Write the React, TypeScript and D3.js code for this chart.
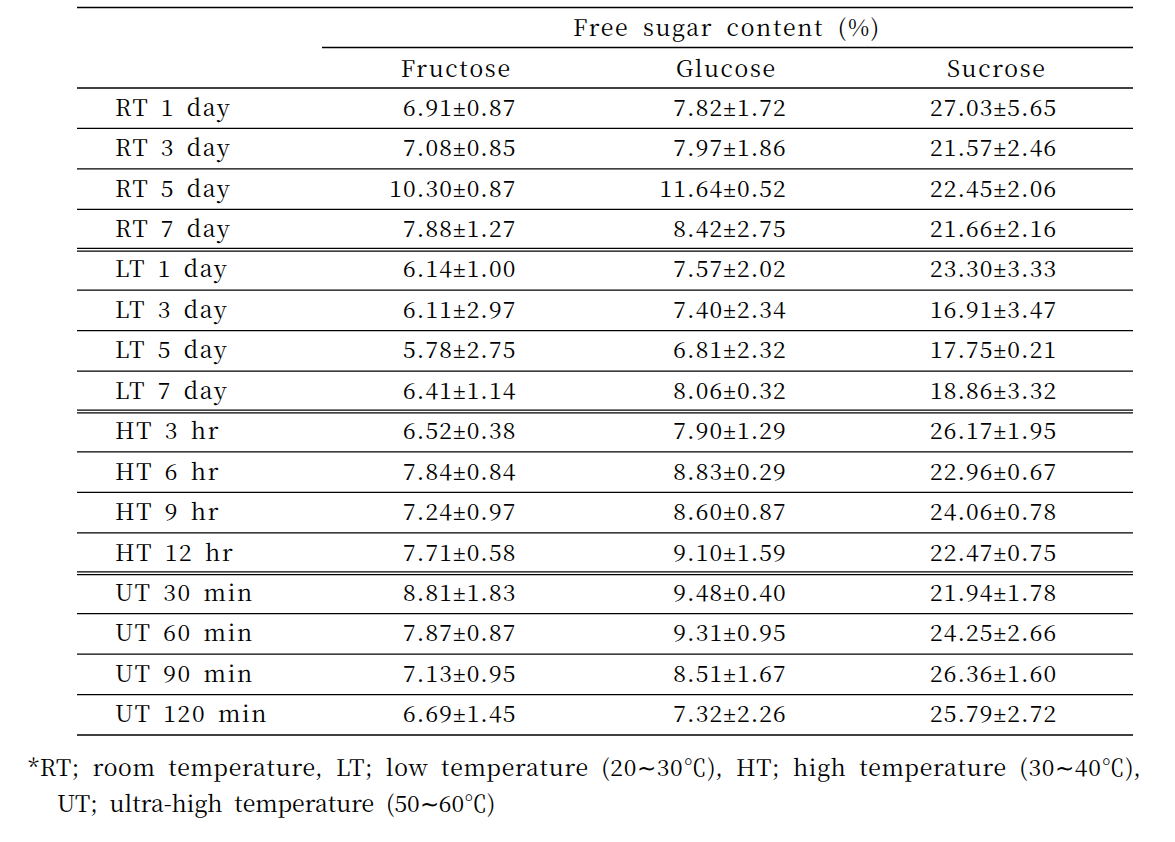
import React, { useEffect, useRef } from 'react';
import * as d3 from 'd3';

const rowLabels = [
  'RT 1 day', 'RT 3 day', 'RT 5 day', 'RT 7 day',
  'LT 1 day', 'LT 3 day', 'LT 5 day', 'LT 7 day',
  'HT 3 hr', 'HT 6 hr', 'HT 9 hr', 'HT 12 hr',
  'UT 30 min', 'UT 60 min', 'UT 90 min', 'UT 120 min',
];
const columns = ['Fructose', 'Glucose', 'Sucrose'];
const fructoseMean = [6.91, 7.08, 10.3, 7.88, 6.14, 6.11, 5.78, 6.41, 6.52, 7.84, 7.24, 7.71, 8.81, 7.87, 7.13, 6.69];
const fructoseSd = [0.87, 0.85, 0.87, 1.27, 1.0, 2.97, 2.75, 1.14, 0.38, 0.84, 0.97, 0.58, 1.83, 0.87, 0.95, 1.45];
const glucoseMean = [7.82, 7.97, 11.64, 8.42, 7.57, 7.4, 6.81, 8.06, 7.9, 8.83, 8.6, 9.1, 9.48, 9.31, 8.51, 7.32];
const glucoseSd = [1.72, 1.86, 0.52, 2.75, 2.02, 2.34, 2.32, 0.32, 1.29, 0.29, 0.87, 1.59, 0.4, 0.95, 1.67, 2.26];
const sucroseMean = [27.03, 21.57, 22.45, 21.66, 23.3, 16.91, 17.75, 18.86, 26.17, 22.96, 24.06, 22.47, 21.94, 24.25, 26.36, 25.79];
const sucroseSd = [5.65, 2.46, 2.06, 2.16, 3.33, 3.47, 0.21, 3.32, 1.95, 0.67, 0.78, 0.75, 1.78, 2.66, 1.6, 2.72];
const groupSize = 4;
const headerTitle = 'Free sugar content (%)';
const footnote = [
  '*RT; room temperature, LT; low temperature (20\u223C30\u2103), HT; high temperature (30\u223C40\u2103),',
  'UT; ultra-high temperature (50\u223C60\u2103)',
];

const App = () => {
  const svgRef = useRef<SVGSVGElement>(null);

  useEffect(() => {
    const svg = d3.select(svgRef.current);
    svg.selectAll('*').remove();

    const width = 1175;
    const height = 842;
    const left = 77;
    const right = 1133;
    const font = '"Noto Serif CJK KR", "Liberation Serif", serif';
    const fontSize = 23;

    svg.attr('width', width).attr('height', height);

    const y = d3.scaleBand<number>()
      .domain(d3.range(rowLabels.length))
      .range([88, 735]);

    const x = d3.scaleBand<string>()
      .domain(columns)
      .range([322, 1133]);

    const series = [
      { mean: fructoseMean, sd: fructoseSd },
      { mean: glucoseMean, sd: glucoseSd },
      { mean: sucroseMean, sd: sucroseSd },
    ];

    const hline = (yy: number, x1: number, x2: number) =>
      svg.append('line')
        .attr('x1', x1).attr('x2', x2)
        .attr('y1', yy).attr('y2', yy)
        .attr('stroke', '#000')
        .attr('stroke-width', 1.3);

    const text = (t: string, xx: number, yy: number, anchor = 'start', ls = 1.7, ws = 4) =>
      svg.append('text')
        .attr('x', xx).attr('y', yy)
        .attr('text-anchor', anchor)
        .attr('font-family', font)
        .attr('font-size', fontSize)
        .attr('letter-spacing', ls)
        .attr('word-spacing', ws)
        .attr('fill', '#000')
        .text(t);

    // header rules
    hline(7.5, left, right);
    hline(47.5, 322, right);
    hline(88, left, right);

    text(headerTitle, 727, 36, 'middle', 1.7, 6);
    columns.forEach(c => text(c, x(c)! + x.bandwidth() / 2 - 1, 77, 'middle'));

    // body rows
    rowLabels.forEach((label, i) => {
      const yy = y(i)! + y.bandwidth() / 2 + 7.5;
      text(label, 115, yy, 'start');
      series.forEach((s, j) => {
        const col = columns[j];
        const t = text('', x(col)! + 194.5, yy, 'end', 1.1, 0);
        t.append('tspan').text(s.mean[i].toFixed(2));
        t.append('tspan').attr('font-family', '"Liberation Serif", serif').text('\u00B1');
        t.append('tspan').text(s.sd[i].toFixed(2));
      });
      const bottom = y(i)! + y.bandwidth();
      if (i !== rowLabels.length - 1 && (i + 1) % groupSize === 0) {
        hline(bottom - 1.3, left, right);
        hline(bottom + 1.3, left, right);
      } else {
        hline(bottom, left, right);
      }
    });

    // footnote
    text(footnote[0], 28, 776, 'start', 0.7, 6);
    text(footnote[1], 57, 812, 'start', 0, 6);
  }, []);

  return <svg ref={svgRef} style={{ position: 'absolute', left: 0, top: 0 }}></svg>;
};

export default App;
